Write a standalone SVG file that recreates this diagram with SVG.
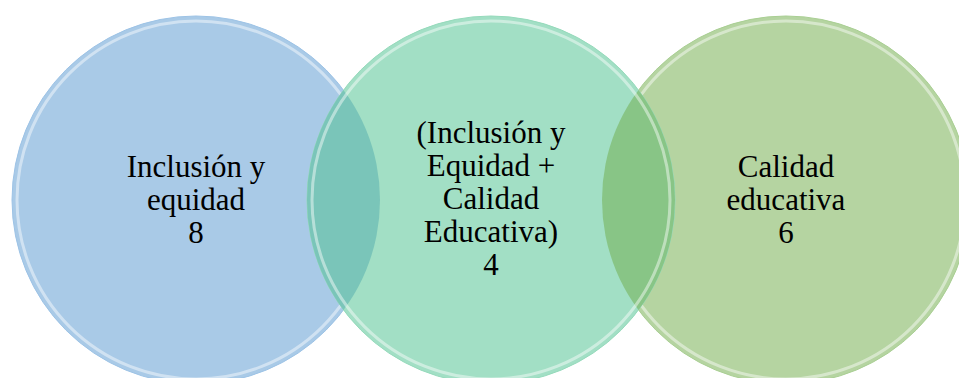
<svg xmlns="http://www.w3.org/2000/svg" width="959" height="378" viewBox="0 0 959 378">
<style>
  .lbl { font-family: "Liberation Serif", "Times New Roman", serif; font-size: 31px; fill: #000; text-anchor: middle; }
  .rim { fill: none; stroke: #ffffff; stroke-opacity: 0.45; stroke-width: 3; }
</style>
<defs>
  <clipPath id="cBlue"><circle cx="196" cy="200" r="184"/></clipPath>
  <clipPath id="cLime"><circle cx="786" cy="200" r="184"/></clipPath>
</defs>
<rect width="959" height="378" fill="#ffffff"/>
<g id="node-inclusion">
  <circle cx="196" cy="200" r="184" fill="#A9CAE7" stroke="#9DC3E6" stroke-width="1"/>
  <circle class="rim" cx="196" cy="200" r="179"/>
</g>
<g id="node-calidad">
  <circle cx="786" cy="200" r="184" fill="#B5D4A1" stroke="#A9CF93" stroke-width="1"/>
  <circle class="rim" cx="786" cy="200" r="179"/>
</g>
<g id="node-interseccion">
  <circle cx="491" cy="200" r="184" fill="#A2DFC5" stroke="#95DABB" stroke-width="1"/>
  <circle cx="491" cy="200" r="184" fill="#7AC5B9" clip-path="url(#cBlue)"/>
  <circle cx="491" cy="200" r="184" fill="#88C586" clip-path="url(#cLime)"/>
  <circle class="rim" cx="491" cy="200" r="179"/>
</g>
<g id="labels">
  <text class="lbl" x="196" y="177">Inclusión y</text>
  <text class="lbl" x="196" y="210">equidad</text>
  <text class="lbl" x="196" y="243">8</text>
  <text class="lbl" x="491" y="143">(Inclusión y</text>
  <text class="lbl" x="491" y="176">Equidad +</text>
  <text class="lbl" x="491" y="209">Calidad</text>
  <text class="lbl" x="491" y="242">Educativa)</text>
  <text class="lbl" x="491" y="275">4</text>
  <text class="lbl" x="786" y="177">Calidad</text>
  <text class="lbl" x="786" y="210">educativa</text>
  <text class="lbl" x="786" y="243">6</text>
</g>
<g id="connectors"></g>
</svg>
